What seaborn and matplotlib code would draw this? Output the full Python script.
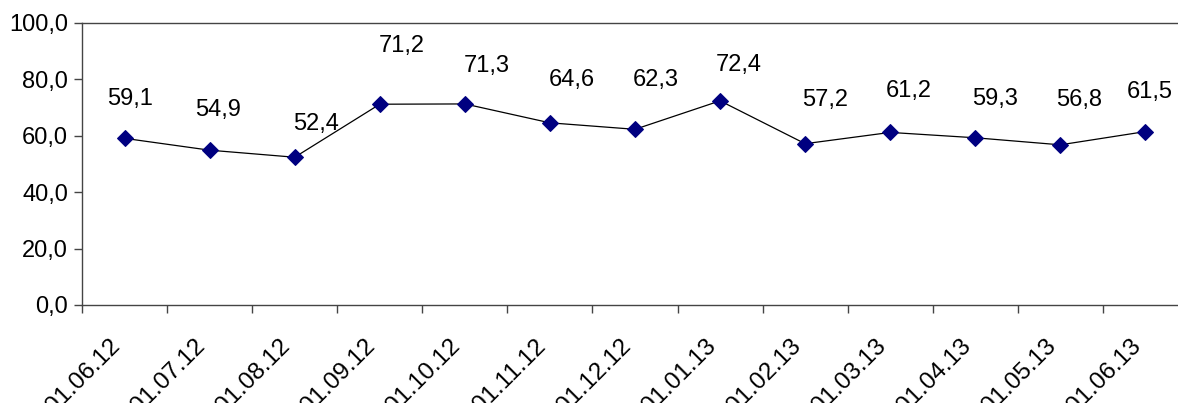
import pandas as pd
import matplotlib.pyplot as plt
import matplotlib.transforms as mtransforms
import seaborn as sns

dates = ['01.06.12', '01.07.12', '01.08.12', '01.09.12', '01.10.12', '01.11.12', '01.12.12',
         '01.01.13', '01.02.13', '01.03.13', '01.04.13', '01.05.13', '01.06.13']
values = [59.1, 54.9, 52.4, 71.2, 71.3, 64.6, 62.3, 72.4, 57.2, 61.2, 59.3, 56.8, 61.5]

# label offsets in pixels (dx, dy), as dragged in the original
label_dx = [6, 8, 21, 22, 22, 22, 21, 19, 20, 19, 20, 19, 4]
label_dy = [39, 40, 33, 58, 38, 43, 49, 36, 44, 41, 39, 45, 40]

df = pd.DataFrame({'Date': dates, 'Value': values})

sns.set_style('white')
plt.rcParams['font.family'] = ['Liberation Sans', 'DejaVu Sans']
plt.rcParams['text.color'] = 'black'
plt.rcParams['xtick.labelcolor'] = 'black'
plt.rcParams['ytick.labelcolor'] = 'black'

fig = plt.figure(figsize=(11.78, 4.03), dpi=100)
ax = fig.add_axes([82 / 1178, 1 - 305 / 403, 1106 / 1178, 282 / 403])

sns.lineplot(x='Date', y='Value', data=df, ax=ax, color='black', linewidth=0.9,
             marker='D', markersize=8.5, markerfacecolor='#000080', markeredgecolor='#000080')

for i, v in enumerate(values):
    ax.annotate(f'{v:.1f}'.replace('.', ','), (i, v), xytext=(label_dx[i], label_dy[i]),
                textcoords='offset pixels', ha='center', va='center', fontsize=17, color='black')

ax.set_xlim(-0.5, len(dates) - 0.5)
ax.set_ylim(0, 100)
ax.set_yticks([0, 20, 40, 60, 80, 100])
ax.set_yticklabels([f'{t:.1f}'.replace('.', ',') for t in [0, 20, 40, 60, 80, 100]], fontsize=17)
ax.set_xticks(range(len(dates)))
ax.set_xticklabels(dates, rotation=45, ha='right', rotation_mode='anchor', fontsize=17.5)
ax.set_xticks([i - 0.5 for i in range(len(dates) + 1)], minor=True)
ax.tick_params(axis='x', which='major', length=0, pad=0)
ax.tick_params(axis='x', which='minor', length=6, width=1, color='#444444', direction='out', bottom=True)
ax.tick_params(axis='y', length=6, width=1, color='#444444', direction='out', left=True, pad=4)
ax.set_xlabel('')
ax.set_ylabel('')

shift = mtransforms.ScaledTranslation(-15.5 / 100, -30 / 100, fig.dpi_scale_trans)
for lbl in ax.get_xticklabels():
    lbl.set_transform(lbl.get_transform() + shift)

for side in ['left', 'bottom', 'top']:
    ax.spines[side].set_color('#444444')
    ax.spines[side].set_linewidth(1)
ax.spines['right'].set_visible(False)

fig.savefig('out.png', dpi=100)
